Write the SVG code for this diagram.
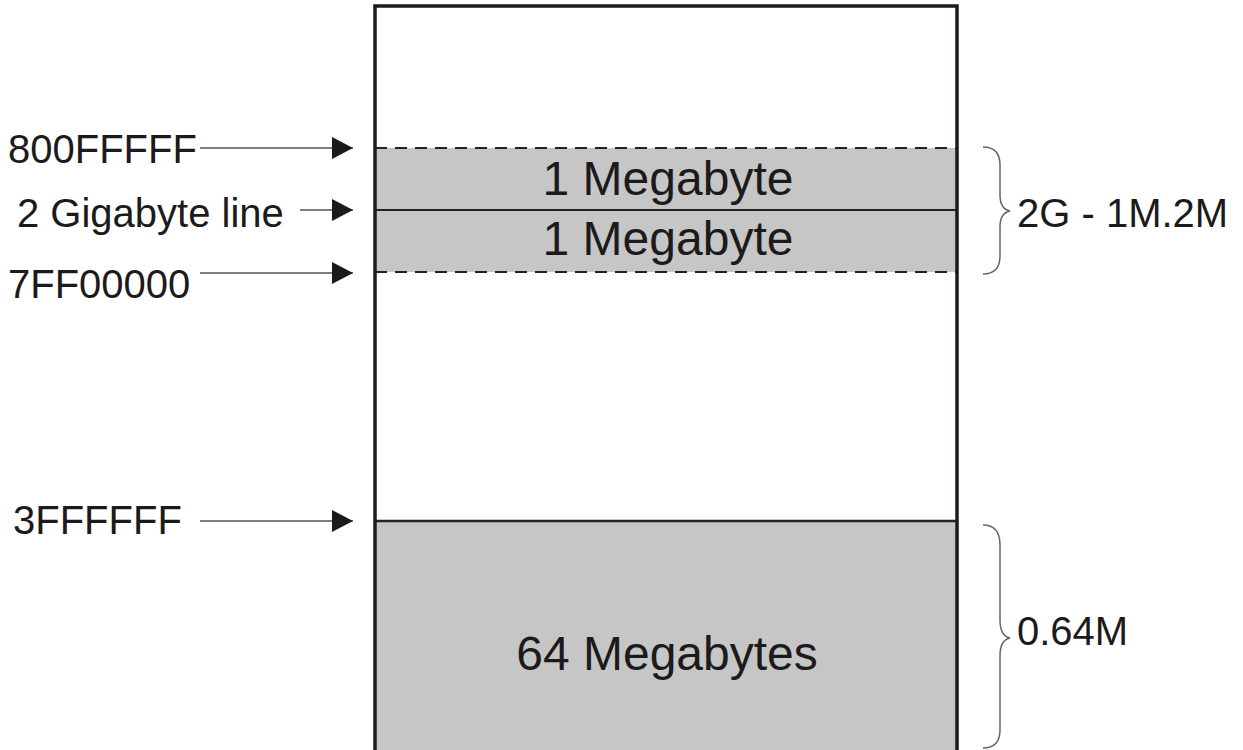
<svg xmlns="http://www.w3.org/2000/svg" width="1243" height="750" viewBox="0 0 1243 750">
  <style>
    text { font-family: "Liberation Sans", Arial, Helvetica, sans-serif; fill: #1c1a1a; }
    .lbl { font-size: 40px; }
    .big { font-size: 48px; }
    .conn { stroke: #555; stroke-width: 1.5; fill: none; }
    .brace { stroke: #666; stroke-width: 1.5; fill: none; }
    .gray { fill: #c6c6c6; }
  </style>
  <defs>
    <marker id="ah" markerWidth="21" markerHeight="22" refX="21" refY="11" orient="auto" markerUnits="userSpaceOnUse">
      <path d="M0,0 L21,11 L0,22 Z" fill="#1c1a1a"/>
    </marker>
  </defs>
  <rect width="1243" height="750" fill="#fff"/>

  <g id="memory">
    <rect x="375" y="6" width="582" height="760" fill="#fff"/>
    <rect class="gray" x="375" y="148" width="582" height="124"/>
    <rect class="gray" x="375" y="521" width="582" height="240"/>
    <line x1="375" y1="148" x2="957" y2="148" stroke="#222" stroke-width="2" stroke-dasharray="12,8"/>
    <line x1="375" y1="272" x2="957" y2="272" stroke="#222" stroke-width="2" stroke-dasharray="12,8"/>
    <line x1="375" y1="210" x2="957" y2="210" stroke="#222" stroke-width="2"/>
    <line x1="375" y1="521" x2="957" y2="521" stroke="#222" stroke-width="2.5"/>
    <rect x="375" y="6" width="582" height="760" fill="none" stroke="#1c1a1a" stroke-width="3.5"/>
  </g>

  <g id="region-upper1">
    <text class="big" x="668" y="195" text-anchor="middle">1 Megabyte</text>
  </g>
  <g id="region-upper2">
    <text class="big" x="668" y="255" text-anchor="middle">1 Megabyte</text>
  </g>
  <g id="region-low">
    <text class="big" x="667" y="670" text-anchor="middle">64 Megabytes</text>
  </g>

  <g id="label-800FFFFF"><text class="lbl" x="8" y="163">800FFFFF</text></g>
  <g id="label-2g"><text class="lbl" x="17" y="227">2 Gigabyte line</text></g>
  <g id="label-7FF00000"><text class="lbl" x="8" y="298">7FF00000</text></g>
  <g id="label-3FFFFFF"><text class="lbl" x="13" y="534">3FFFFFF</text></g>

  <g id="size-upper">
    <path class="brace" d="M983,147 Q1000,147 1000,165 L1000,195 Q1000,209 1010,211 Q1000,213 1000,227 L1000,256 Q1000,274 983,274"/>
    <text class="lbl" x="1017" y="227">2G - 1M.2M</text>
  </g>
  <g id="size-lower">
    <path class="brace" d="M983,525 Q1000,525 1000,545 L1000,620 Q1000,636 1010,638 Q1000,640 1000,656 L1000,730 Q1000,748 983,748"/>
    <text class="lbl" x="1017" y="645">0.64M</text>
  </g>

  <g id="connectors">
    <line class="conn" x1="200" y1="148" x2="353" y2="148" marker-end="url(#ah)"/>
    <line class="conn" x1="300" y1="210" x2="353" y2="210" marker-end="url(#ah)"/>
    <line class="conn" x1="200" y1="273" x2="353" y2="273" marker-end="url(#ah)"/>
    <line class="conn" x1="200" y1="521" x2="353" y2="521" marker-end="url(#ah)"/>
  </g>
</svg>
